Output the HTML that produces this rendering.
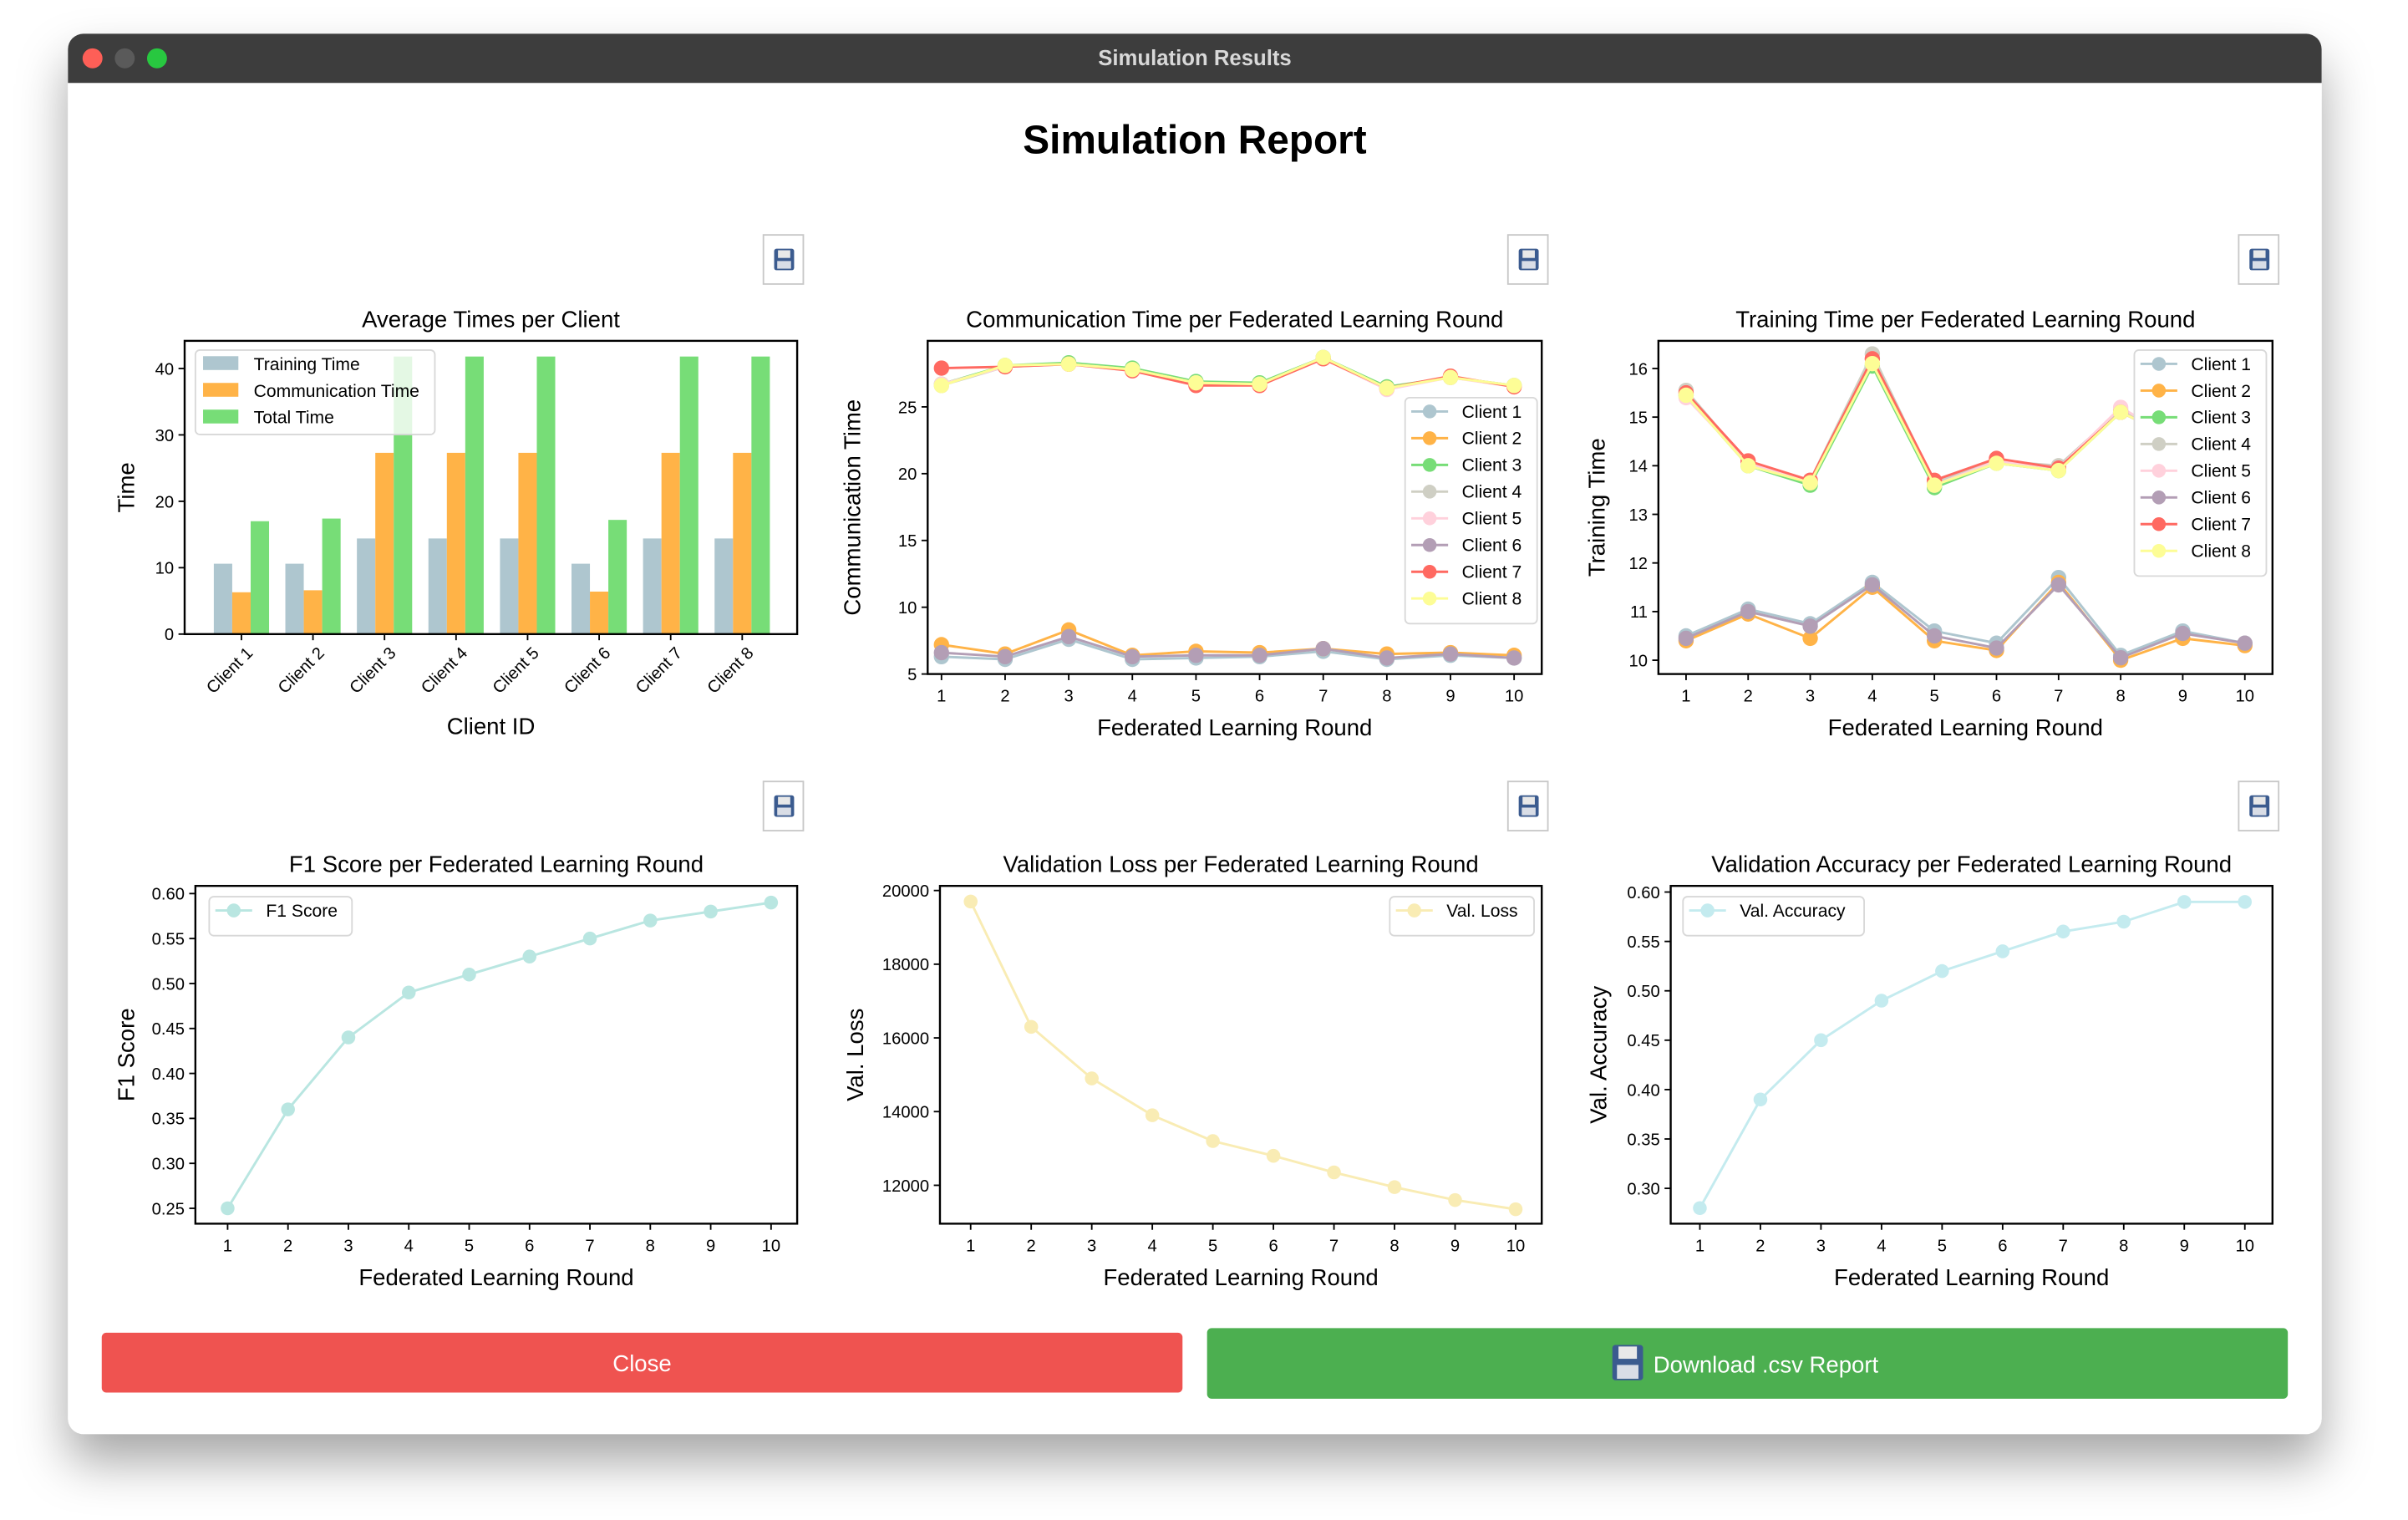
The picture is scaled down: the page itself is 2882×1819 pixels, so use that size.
<!DOCTYPE html>
<html><head><meta charset="utf-8"><style>
html,body{margin:0;padding:0;background:#fff;}
svg{display:block;font-family:"Liberation Sans",Arial,sans-serif;}
</style></head><body>
<svg id="root" width="2882" height="1819" viewBox="0 0 1568 990" xmlns="http://www.w3.org/2000/svg">
<defs>
<filter id="sh" x="-10%" y="-10%" width="120%" height="130%"><feDropShadow dx="0" dy="18" stdDeviation="16" flood-color="#000" flood-opacity="0.35"/></filter>
</defs>
<rect x="44" y="22" width="1468" height="912" rx="10" fill="#fff" filter="url(#sh)"/>
<path d="M54 22 H1502 A10 10 0 0 1 1512 32 V54 H44 V32 A10 10 0 0 1 54 22Z" fill="#3d3d3d"/>
<circle cx="60" cy="38" r="6.5" fill="#fe5f57"/>
<circle cx="81" cy="38" r="6.5" fill="#5a5a5a"/>
<circle cx="102" cy="38" r="6.5" fill="#28c840"/>
<text x="778" y="42.5" text-anchor="middle" font-size="14" font-weight="bold" fill="#d8d8d8">Simulation Results</text>
<text x="778" y="100" text-anchor="middle" font-size="26" font-weight="bold" fill="#000">Simulation Report</text>
<g id="charts"></g>
<rect x="66" y="868" width="704" height="39" rx="3" fill="#ef5350"/>
<text x="418" y="893" text-anchor="middle" font-size="15" fill="#fff">Close</text>
<rect x="786" y="865" width="704" height="46" rx="3" fill="#4caf50"/>
<g><rect x="1050" y="876" width="20" height="23" rx="2" fill="#3b5b8f"/><rect x="1054" y="877" width="12" height="8" fill="#e8e8e8"/><rect x="1053" y="889" width="14" height="9" fill="#d9dde6"/></g>
<text x="1150" y="894" text-anchor="middle" font-size="15" fill="#fff">Download .csv Report</text>
</svg>
<script>
// ---- data ----
const clientNames = ["Client 1","Client 2","Client 3","Client 4","Client 5","Client 6","Client 7","Client 8"];
const clientColors = ["#aec6cf","#ffb347","#77dd77","#cfcfc4","#ffd1dc","#b39eb5","#ff6961","#fdfd96"];
const avgTraining = [10.6,10.6,14.4,14.4,14.4,10.6,14.4,14.4];
const avgComm = [6.3,6.6,27.3,27.3,27.3,6.4,27.3,27.3];
const avgTotal = [17.0,17.4,41.8,41.8,41.8,17.2,41.8,41.8];
const rounds = [1,2,3,4,5,6,7,8,9,10];
const commC1 = [6.3,6.1,7.6,6.1,6.2,6.3,6.7,6.1,6.4,6.2];
const commC2 = [7.2,6.5,8.3,6.4,6.7,6.6,6.9,6.5,6.6,6.4];
const commC3 = [26.7,28.1,28.3,27.9,26.9,26.8,28.7,26.5,27.2,26.6];
const commC4 = [26.6,28.0,28.2,27.8,26.8,26.7,28.7,26.4,27.2,26.6];
const commC5 = [26.7,28.0,28.2,27.7,26.7,26.6,28.6,26.3,27.2,26.5];
const commC6 = [6.6,6.3,7.8,6.3,6.4,6.4,6.9,6.2,6.5,6.2];
const commC7 = [27.9,28.0,28.2,27.7,26.6,26.6,28.6,26.4,27.3,26.5];
const commC8 = [26.6,28.1,28.2,27.8,26.8,26.7,28.7,26.4,27.2,26.6];
const trainC1 = [10.5,11.05,10.75,11.6,10.6,10.35,11.7,10.1,10.6,10.35];
const trainC2 = [10.4,10.95,10.45,11.5,10.4,10.2,11.6,10.0,10.45,10.3];
const trainC3 = [15.45,14.0,13.6,16.05,13.55,14.05,13.9,15.1,14.5,13.7];
const trainC4 = [15.55,14.05,13.7,16.3,13.65,14.1,14.0,15.15,14.5,13.7];
const trainC5 = [15.4,14.05,13.65,16.2,13.6,14.1,13.95,15.2,14.45,13.7];
const trainC6 = [10.45,11.0,10.7,11.55,10.5,10.25,11.55,10.05,10.55,10.35];
const trainC7 = [15.5,14.1,13.7,16.2,13.7,14.15,13.95,15.1,14.5,13.7];
const trainC8 = [15.45,14.0,13.65,16.1,13.6,14.05,13.9,15.1,14.5,13.7];
const f1Score = [0.25,0.36,0.44,0.49,0.51,0.53,0.55,0.57,0.58,0.59];
const valLoss = [19700,16300,14900,13900,13200,12800,12350,11950,11600,11350];
const valAcc = [0.28,0.39,0.45,0.49,0.52,0.54,0.56,0.57,0.59,0.59];
const barTicks = [0,10,20,30,40];
const commTicks = [5,10,15,20,25];
const trainTicks = [10,11,12,13,14,15,16];
const f1Ticks = [0.25,0.30,0.35,0.40,0.45,0.50,0.55,0.60];
const lossTicks = [12000,14000,16000,18000,20000];
const accTicks = [0.30,0.35,0.40,0.45,0.50,0.55,0.60];

const NS="http://www.w3.org/2000/svg";
const root=document.getElementById('charts');
function mk(tag,attrs,parent,txt){const e=document.createElementNS(NS,tag);for(const k in attrs)e.setAttribute(k,attrs[k]);if(txt!==undefined)e.textContent=txt;(parent||root).appendChild(e);return e;}
function lin(d0,d1,r0,r1){return v=>r0+(v-d0)*(r1-r0)/(d1-d0);}

function frame(g,box,title,xlabel,ylabel,save){
  const b=mk('rect',{x:save[0],y:save[1],width:26,height:32,fill:'#fff',stroke:'#c8c8c8'},g);
  
  
  const ic=mk('g',{},g);
  
  
  mk('rect',{x:save[0]+7,y:save[1]+9,width:13,height:14,rx:1.5,fill:'#3b5b8f'},ic);
  mk('rect',{x:save[0]+9.5,y:save[1]+10,width:8,height:5,fill:'#e8e8e8'},ic);
  mk('rect',{x:save[0]+9,y:save[1]+17,width:9,height:5,fill:'#d9dde6'},ic);
  const t=mk('text',{x:(box.x0+box.x1)/2,y:box.y0-9,'text-anchor':'middle','font-size':15},g,title);
  
  
  const xl=mk('text',{x:(box.x0+box.x1)/2,y:box.y1+(box.xlo||40),'text-anchor':'middle','font-size':15},g,xlabel);
  
  
  const yl=mk('text',{x:0,y:0,'text-anchor':'middle','font-size':15,transform:`translate(${box.yl},${(box.y0+box.y1)/2}) rotate(-90)`},g,ylabel);
  
  
}
function border(g,box){
  const r=mk('rect',{x:box.x0,y:box.y0,width:box.x1-box.x0,height:box.y1-box.y0,fill:'none',stroke:'#000','stroke-width':1.3},g);
  
  
}
function yaxis(g,box,ticks,ys,fmt){
  ticks.forEach(v=>{const y=ys(v);
    mk('line',{x1:box.x0-4,x2:box.x0,y1:y,y2:y,stroke:'#000'},g);
    const t=mk('text',{x:box.x0-7,y:y+4,'text-anchor':'end','font-size':11},g,fmt(v));
    
    });
}
function xaxisRounds(g,box,xs){
  rounds.forEach(r=>{const x=xs(r);
    mk('line',{x1:x,x2:x,y1:box.y1,y2:box.y1+4,stroke:'#000'},g);
    const t=mk('text',{x:x,y:box.y1+18,'text-anchor':'middle','font-size':11},g,String(r));
    
    });
}
function series(g,vals,xs,ys,color,r,name){
  const s=mk('g',{},g);
  
  
  mk('polyline',{points:vals.map((v,i)=>xs(rounds[i])+','+ys(v)).join(' '),fill:'none',stroke:color,'stroke-width':1.6},s);
  vals.forEach((v,i)=>{const c=mk('circle',{cx:xs(rounds[i]),cy:ys(v),r:r,fill:color},s);
    
    });
}
function legend(g,x,y,w,names,colors){
  const h=names.length*17.4+8;
  const L=mk('g',{},g);
  
  
  mk('rect',{x:x,y:y,width:w,height:h,rx:3,fill:'#fff',stroke:'#d8d8d8'},L);
  names.forEach((n,i)=>{const cy=y+9+i*17.4;
    const e=mk('g',{},L);
    
    
    mk('line',{x1:x+4,x2:x+28,y1:cy,y2:cy,stroke:colors[i],'stroke-width':1.6},e);
    mk('circle',{cx:x+16,cy:cy,r:4.5,fill:colors[i]},e);
    mk('text',{x:x+37,y:cy+4,'font-size':11.5},e,n);});
}

// Chart 1: bar chart
(function(){
  const g=mk('g',{});
  
  
  const box={x0:120,x1:519,y0:222,y1:413,yl:87,xlo:65};
  frame(g,box,'Average Times per Client','Client ID','Time',[497,153]);
  const ys=lin(0,40,413,240);
  const xs=i=>157+i*46.6;
  const sets=[avgTraining,avgComm,avgTotal], cols=['#aec6cf','#ffb347','#77dd77'], nm=['bar-training-time','bar-communication-time','bar-total-time'];
  clientNames.forEach((c,i)=>{
    sets.forEach((arr,k)=>{const b=mk('rect',{x:xs(i)-18+k*12,y:ys(arr[i]),width:12,height:ys(0)-ys(arr[i]),fill:cols[k]},g);
      
      });
    mk('line',{x1:xs(i),x2:xs(i),y1:413,y2:417,stroke:'#000'},g);
    const t=mk('text',{x:0,y:0,'text-anchor':'end','font-size':11,transform:`translate(${xs(i)+8},${426}) rotate(-45)`},g,c);
    
    
  });
  yaxis(g,box,barTicks,ys,v=>String(v));
  const L=mk('g',{},g);
  
  
  mk('rect',{x:127,y:228,width:156,height:55,rx:3,fill:'#fff','fill-opacity':0.8,stroke:'#d8d8d8'},L);
  ['Training Time','Communication Time','Total Time'].forEach((n,i)=>{
    mk('rect',{x:132,y:232+i*17.4,width:23,height:9,fill:cols[i]},L);
    mk('text',{x:165,y:241+i*17.4,'font-size':11.5},L,n);});
  border(g,box);
})();

// Chart 2: communication time
(function(){
  const g=mk('g',{});
  
  
  const box={x0:604,x1:1004,y0:222,y1:439,yl:560};
  frame(g,box,'Communication Time per Federated Learning Round','Federated Learning Round','Communication Time',[982,153]);
  const ys=lin(5,25,439,265), xs=lin(1,10,613,986);
  [commC1,commC2,commC3,commC4,commC5,commC6,commC7,commC8].forEach((d,i)=>series(g,d,xs,ys,clientColors[i],5,'line-client-'+(i+1)));
  yaxis(g,box,commTicks,ys,v=>String(v)); xaxisRounds(g,box,xs);
  legend(g,915,259,86,clientNames,clientColors);
  border(g,box);
})();

// Chart 3: training time
(function(){
  const g=mk('g',{});
  
  
  const box={x0:1080,x1:1480,y0:222,y1:439,yl:1045};
  frame(g,box,'Training Time per Federated Learning Round','Federated Learning Round','Training Time',[1458,153]);
  const ys=lin(10,16,430,240), xs=lin(1,10,1098,1462);
  [trainC1,trainC2,trainC3,trainC4,trainC5,trainC6,trainC7,trainC8].forEach((d,i)=>series(g,d,xs,ys,clientColors[i],5,'line-client-'+(i+1)));
  yaxis(g,box,trainTicks,ys,v=>String(v)); xaxisRounds(g,box,xs);
  legend(g,1390,228,86,clientNames,clientColors);
  border(g,box);
})();

// Chart 4: F1
(function(){
  const g=mk('g',{});
  
  
  const box={x0:127,x1:519,y0:577,y1:797,yl:87};
  frame(g,box,'F1 Score per Federated Learning Round','Federated Learning Round','F1 Score',[497,509]);
  const ys=lin(0.25,0.60,787,582), xs=lin(1,10,148,502);
  series(g,f1Score,xs,ys,'#b9e6e1',4.5,'line-f1-score');
  yaxis(g,box,f1Ticks,ys,v=>v.toFixed(2)); xaxisRounds(g,box,xs);
  legend(g,136,584,93,['F1 Score'],['#b9e6e1']);
  border(g,box);
})();

// Chart 5: loss
(function(){
  const g=mk('g',{});
  
  
  const box={x0:612,x1:1004,y0:577,y1:797,yl:562};
  frame(g,box,'Validation Loss per Federated Learning Round','Federated Learning Round','Val. Loss',[982,509]);
  const ys=lin(12000,20000,772,580), xs=lin(1,10,632,987);
  series(g,valLoss,xs,ys,'#f9ecb4',4.5,'line-validation-loss');
  yaxis(g,box,lossTicks,ys,v=>String(v)); xaxisRounds(g,box,xs);
  legend(g,905,584,94,['Val. Loss'],['#f9ecb4']);
  border(g,box);
})();

// Chart 6: accuracy
(function(){
  const g=mk('g',{});
  
  
  const box={x0:1088,x1:1480,y0:577,y1:797,yl:1046};
  frame(g,box,'Validation Accuracy per Federated Learning Round','Federated Learning Round','Val. Accuracy',[1458,509]);
  const ys=lin(0.30,0.60,774,581), xs=lin(1,10,1107,1462);
  series(g,valAcc,xs,ys,'#c4ebef',4.5,'line-validation-accuracy');
  yaxis(g,box,accTicks,ys,v=>v.toFixed(2)); xaxisRounds(g,box,xs);
  legend(g,1096,584,118,['Val. Accuracy'],['#c4ebef']);
  border(g,box);
})();
</script>
</body></html>
